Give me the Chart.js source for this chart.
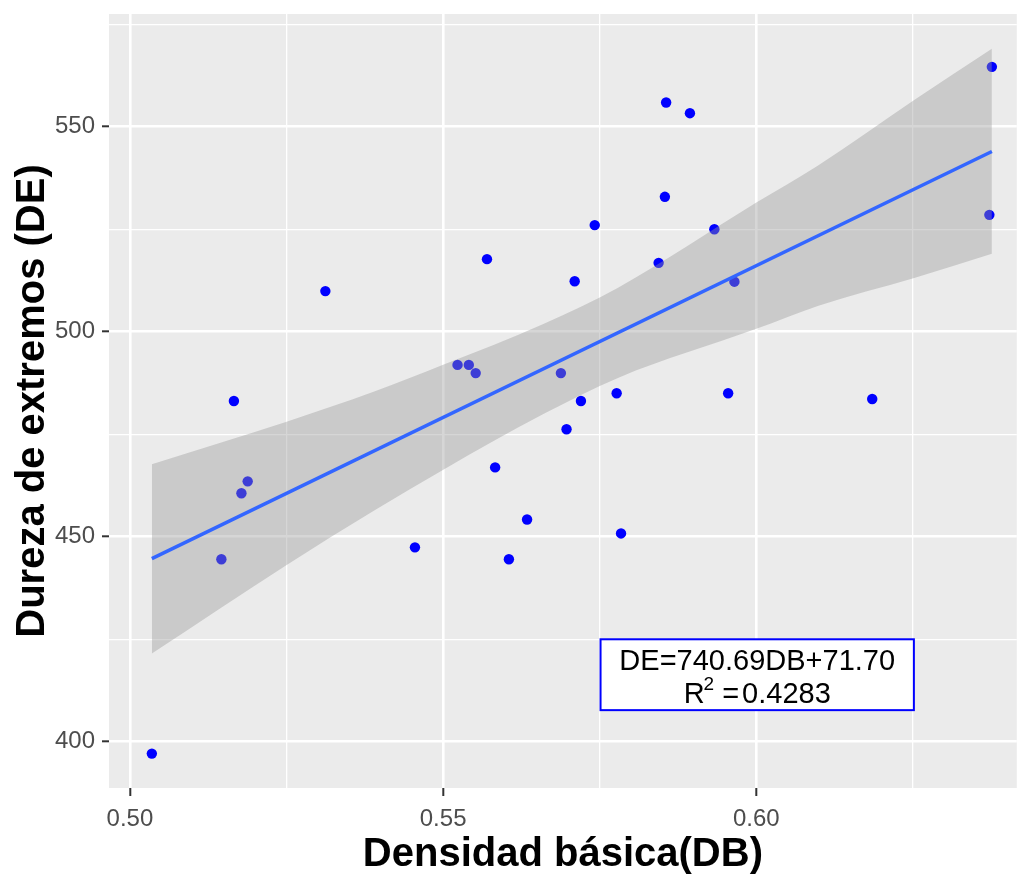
<!DOCTYPE html>
<html lang="es">
<head>
<meta charset="utf-8">
<title>Dureza de extremos vs densidad básica</title>
<script src="https://cdn.jsdelivr.net/npm/chart.js@4.4.1/dist/chart.umd.min.js"></script>
<style>
  html, body { margin: 0; padding: 0; background: #fff; }
  #wrap { width: 1022px; height: 875px; }
</style>
</head>
<body>
<div id="wrap"><canvas id="grafico" width="1022" height="875"></canvas></div>
<script>
// densidad básica (DB) y dureza de extremos (DE) por probeta
const densidadBasica = [0.5166, 0.5312, 0.5570, 0.5523, 0.5541, 0.5552, 0.5856, 0.5894, 0.6376, 0.5854,
  0.5742, 0.5933, 0.6372, 0.5844, 0.5710, 0.5965, 0.5688, 0.5720, 0.5777, 0.5955,
  0.6185, 0.5697, 0.5188, 0.5178, 0.5146, 0.5035, 0.5455, 0.5583, 0.5605, 0.5634, 0.5784];
const durezaExtremos = [483.1, 509.9, 517.7, 491.9, 491.9, 489.9, 555.9, 553.3, 564.6, 532.9,
  526.0, 525.0, 528.5, 516.8, 512.3, 512.2, 489.9, 483.1, 485.0, 485.0,
  483.6, 476.2, 463.5, 460.6, 444.5, 397.1, 447.4, 466.9, 444.5, 454.2, 450.8];

const bandaDB = [0.5035, 0.5249, 0.5390, 0.5501, 0.5660, 0.5780, 0.6000, 0.6098, 0.6252, 0.6376];
const bandaSuperior = [467.7, 478.0, 485.4, 492.0, 501.9, 510.8, 531.5, 540.5, 556.5, 569.0];
const bandaInferior = [421.5, 443.0, 456.4, 466.4, 479.9, 488.8, 500.7, 506.3, 513.1, 519.0];

// recta ajustada DE = pendiente*DB + intercepto
const pendiente = 740.69;
const intercepto = 71.70;
const r2 = 0.4283;

const ticksX = [0.500, 0.525, 0.550, 0.575, 0.600, 0.625];
const ticksY = [400, 425, 450, 475, 500, 525, 550, 575];
const etiquetasX = [0.50, 0.55, 0.60];
const etiquetasY = [400, 450, 500, 550];

const fuente = '"Liberation Sans", Arial, sans-serif';
const esMayor = (lista, v) => lista.some(m => Math.abs(m - v) < 1e-6);

const dbMin = Math.min(...densidadBasica);
const dbMax = Math.max(...densidadBasica);
const recta = [dbMin, dbMax].map(x => ({ x, y: pendiente * x + intercepto }));

// fondo gris del panel
const fondoPanel = {
  id: 'fondoPanel',
  beforeDraw(chart) {
    const { ctx, chartArea: a } = chart;
    ctx.save();
    ctx.fillStyle = '#EBEBEB';
    ctx.fillRect(a.left, a.top, a.right - a.left, a.bottom - a.top);
    ctx.restore();
  }
};

// recuadro con la ecuación y el R²
const cuadroEcuacion = {
  id: 'cuadroEcuacion',
  afterDatasetsDraw(chart) {
    const { ctx, scales: { x, y } } = chart;
    const x0 = x.getPixelForValue(0.57513), x1 = x.getPixelForValue(0.62515);
    const y0 = y.getPixelForValue(424.98), y1 = y.getPixelForValue(407.7);
    const cx = (x0 + x1) / 2;
    ctx.save();
    ctx.fillStyle = '#FFFFFF';
    ctx.fillRect(x0, y0, x1 - x0, y1 - y0);
    ctx.strokeStyle = '#0000FF';
    ctx.lineWidth = 2;
    ctx.strokeRect(x0, y0, x1 - x0, y1 - y0);

    ctx.fillStyle = '#000000';
    ctx.textBaseline = 'alphabetic';
    ctx.font = '29px ' + fuente;
    ctx.textAlign = 'center';
    ctx.fillText('DE=' + pendiente.toFixed(2) + 'DB+' + intercepto.toFixed(2), cx, y0 + 31);

    // segunda línea: R^2 = valor
    ctx.textAlign = 'left';
    const base = y0 + 64;
    const wR = ctx.measureText('R').width;
    const wIg = ctx.measureText('=').width;
    const valor = r2.toFixed(4);
    const wVal = ctx.measureText(valor).width;
    ctx.font = '19px ' + fuente;
    const wDos = ctx.measureText('2').width;
    const total = wR + wDos + 7 + wIg + 3 + wVal;
    let px = cx - total / 2;
    ctx.font = '29px ' + fuente;
    ctx.fillText('R', px, base);
    px += wR;
    ctx.font = '19px ' + fuente;
    ctx.fillText('2', px - 1, base - 13);
    px += wDos + 7;
    ctx.font = '29px ' + fuente;
    ctx.fillText('=', px, base);
    px += wIg + 3;
    ctx.fillText(valor, px, base);
    ctx.restore();
  }
};

new Chart(document.getElementById('grafico'), {
  type: 'line',
  data: {
    datasets: [
      {
        label: 'ajuste',
        data: recta,
        borderColor: '#3366FF',
        borderWidth: 3.5,
        pointRadius: 0,
        fill: false,
        order: 1
      },
      {
        label: 'límite inferior',
        data: bandaDB.map((x, i) => ({ x, y: bandaInferior[i] })),
        borderColor: 'rgba(0,0,0,0)',
        borderWidth: 0,
        pointRadius: 0,
        cubicInterpolationMode: 'monotone',
        fill: false,
        order: 2
      },
      {
        label: 'límite superior',
        data: bandaDB.map((x, i) => ({ x, y: bandaSuperior[i] })),
        borderColor: 'rgba(0,0,0,0)',
        borderWidth: 0,
        pointRadius: 0,
        cubicInterpolationMode: 'monotone',
        fill: 1,
        backgroundColor: 'rgba(153,153,153,0.4)',
        order: 2
      },
      {
        label: 'DE',
        data: densidadBasica.map((x, i) => ({ x, y: durezaExtremos[i] })),
        showLine: false,
        borderColor: 'rgba(0,0,0,0)',
        pointRadius: 5.2,
        pointBackgroundColor: '#0000FF',
        pointBorderColor: '#0000FF',
        pointBorderWidth: 0,
        order: 3
      }
    ]
  },
  options: {
    responsive: false,
    animation: false,
    devicePixelRatio: 1,
    events: [],
    layout: { padding: { top: 14, right: 2, bottom: 0, left: 0 } },
    plugins: {
      legend: { display: false },
      tooltip: { enabled: false },
      filler: { propagate: false }
    },
    scales: {
      x: {
        type: 'linear',
        min: 0.49666,
        max: 0.64158,
        afterBuildTicks: ax => { ax.ticks = ticksX.map(v => ({ value: v })); },
        afterFit: ax => {
          ax.height = 87;
          ax.paddingLeft = 0;
          ax.paddingRight = 0;
        },
        border: { display: false },
        grid: {
          color: '#FFFFFF',
          lineWidth: c => esMayor(etiquetasX, c.tick.value) ? 2.6 : 1.3,
          tickColor: c => esMayor(etiquetasX, c.tick.value) ? '#333333' : 'rgba(0,0,0,0)',
          tickLength: 8,
          tickWidth: 2
        },
        ticks: {
          autoSkip: false,
          maxRotation: 0,
          padding: 9,
          color: '#4D4D4D',
          font: { family: fuente, size: 24 },
          callback: v => esMayor(etiquetasX, v) ? v.toFixed(2) : ''
        },
        title: {
          display: true,
          text: 'Densidad básica(DB)',
          color: '#000000',
          font: { family: fuente, size: 40, weight: 'bold', lineHeight: 1 },
          padding: { top: 0, bottom: 0 }
        }
      },
      y: {
        type: 'linear',
        min: 388.71,
        max: 577.49,
        afterBuildTicks: ax => { ax.ticks = ticksY.map(v => ({ value: v })); },
        afterFit: ax => {
          ax.width = 109;
          ax.paddingTop = 0;
          ax.paddingBottom = 0;
        },
        border: { display: false },
        grid: {
          color: '#FFFFFF',
          lineWidth: c => esMayor(etiquetasY, c.tick.value) ? 2.6 : 1.3,
          tickColor: c => esMayor(etiquetasY, c.tick.value) ? '#333333' : 'rgba(0,0,0,0)',
          tickLength: 7,
          tickWidth: 2
        },
        ticks: {
          autoSkip: false,
          padding: 7,
          color: '#4D4D4D',
          font: { family: fuente, size: 24 },
          callback: v => esMayor(etiquetasY, v) ? String(v) : ''
        },
        title: {
          display: true,
          text: 'Dureza de extremos (DE)',
          color: '#000000',
          font: { family: fuente, size: 40, weight: 'bold', lineHeight: 1 },
          padding: { top: 13, bottom: 0 }
        }
      }
    }
  },
  plugins: [fondoPanel, cuadroEcuacion]
});
</script>
</body>
</html>
